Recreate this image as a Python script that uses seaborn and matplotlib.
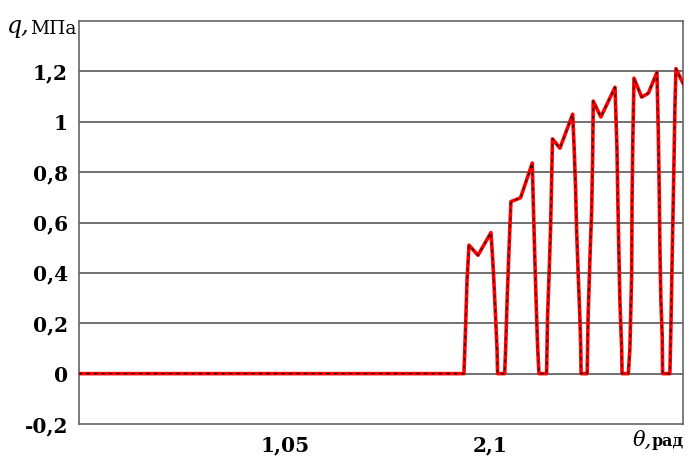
import matplotlib
matplotlib.use("Agg")
import matplotlib.pyplot as plt
import seaborn as sns
import pandas as pd

# ---- data ----
theta = [0.0, 1.964, 1.968, 1.974, 1.980, 1.990, 2.036, 2.102,
         2.111, 2.119, 2.126, 2.133, 2.136, 2.172,
         2.177, 2.185, 2.194, 2.204, 2.253, 2.313,
         2.318, 2.330, 2.340, 2.347, 2.386,
         2.391, 2.399, 2.406, 2.411, 2.416, 2.454, 2.519,
         2.527, 2.534, 2.539, 2.547, 2.556, 2.560, 2.562, 2.593,
         2.598, 2.607, 2.616, 2.621, 2.624, 2.663, 2.735,
         2.745, 2.750, 2.755, 2.760, 2.769, 2.771, 2.803,
         2.811, 2.820, 2.822, 2.826, 2.832, 2.871, 2.905, 2.949,
         2.956, 2.961, 2.964, 2.969, 2.976, 2.978, 3.015,
         3.020, 3.024, 3.029, 3.036, 3.041, 3.046, 3.092]
q = [0.0, 0.0, 0.08, 0.22, 0.37, 0.51, 0.47, 0.56,
     0.454, 0.335, 0.217, 0.10, 0.0, 0.0,
     0.10, 0.30, 0.49, 0.683, 0.698, 0.836,
     0.679, 0.347, 0.11, 0.0, 0.0,
     0.229, 0.40, 0.572, 0.742, 0.932, 0.895, 1.030,
     0.888, 0.730, 0.572, 0.40, 0.217, 0.11, 0.0, 0.0,
     0.23, 0.454, 0.651, 0.861, 1.082, 1.019, 1.137,
     0.896, 0.671, 0.474, 0.288, 0.099, 0.0, 0.0,
     0.099, 0.395, 0.69, 0.928, 1.173, 1.098, 1.113, 1.196,
     0.96, 0.711, 0.513, 0.296, 0.146, 0.0, 0.0,
     0.171, 0.343, 0.553, 0.842, 1.066, 1.211, 1.137]

y_ticks = [-0.2, 0.0, 0.2, 0.4, 0.6, 0.8, 1.0, 1.2]
y_tick_labels = ["-0,2", "0", "0,2", "0,4", "0,6", "0,8", "1", "1,2"]
x_ticks = [0.35, 0.70, 1.05, 1.40, 1.75, 2.10, 2.45, 2.80]
x_tick_labels = ["", "", "1,05", "", "", "2,1", "", ""]

df = pd.DataFrame({"theta": theta, "q": q})

sns.set_style("white")
plt.rcParams["font.family"] = ["DejaVu Serif"]
plt.rcParams["text.color"] = "black"
plt.rcParams["xtick.color"] = "black"
plt.rcParams["ytick.color"] = "black"

fig = plt.figure(figsize=(6.91, 4.57), dpi=100)
ax = fig.add_axes([79 / 691, 1 - 424 / 457, (683 - 79) / 691, (424 - 21) / 457])

sns.lineplot(data=df, x="theta", y="q", ax=ax, color="#ff0000", linewidth=2.6,
             sort=False, estimator=None, zorder=3)
sns.lineplot(data=df, x="theta", y="q", ax=ax, color="#111111", linewidth=0.9,
             sort=False, estimator=None, zorder=4, dashes=False,
             linestyle=(0, (2.5, 3.5)))

ax.set_xlim(0, 3.082)
ax.set_ylim(-0.2, 1.4)

ax.set_yticks(y_ticks)
ax.set_yticklabels(y_tick_labels, fontsize=14.5, fontweight="bold", color="black")
ax.set_xticks(x_ticks)
ax.set_xticklabels(x_tick_labels, fontsize=14.5, fontweight="bold", color="black")
ax.tick_params(axis="y", length=0, pad=8)
ax.tick_params(axis="x", direction="in", length=6.5, width=1.0, color="#444444", pad=8)

ax.set_xlabel("")
ax.set_ylabel("")

for yv in y_ticks[1:]:
    ax.axhline(yv, color="#666666", linewidth=1.3, zorder=1)

for s in ax.spines.values():
    s.set_visible(True)
    s.set_color("#666666")
    s.set_linewidth(1.2)

# axis captions
fig.text(7 / 691, 1 - 33 / 457, "q,", fontsize=17, style="italic",
         family=["DejaVu Serif"], ha="left", va="baseline", color="black")
fig.text(30 / 691, 1 - 34 / 457, "МПа", fontsize=13.5,
         family=["DejaVu Serif"], ha="left", va="baseline", color="black")

fig.text(633 / 691, 1 - 446 / 457, "θ,", fontsize=15, style="italic",
         family=["DejaVu Serif"], ha="left", va="baseline", color="black")
fig.text(652 / 691, 1 - 446 / 457, "рад", fontsize=11.5, fontweight="bold",
         family=["DejaVu Serif"], ha="left", va="baseline", color="black")

fig.savefig("out.png", dpi=100)
